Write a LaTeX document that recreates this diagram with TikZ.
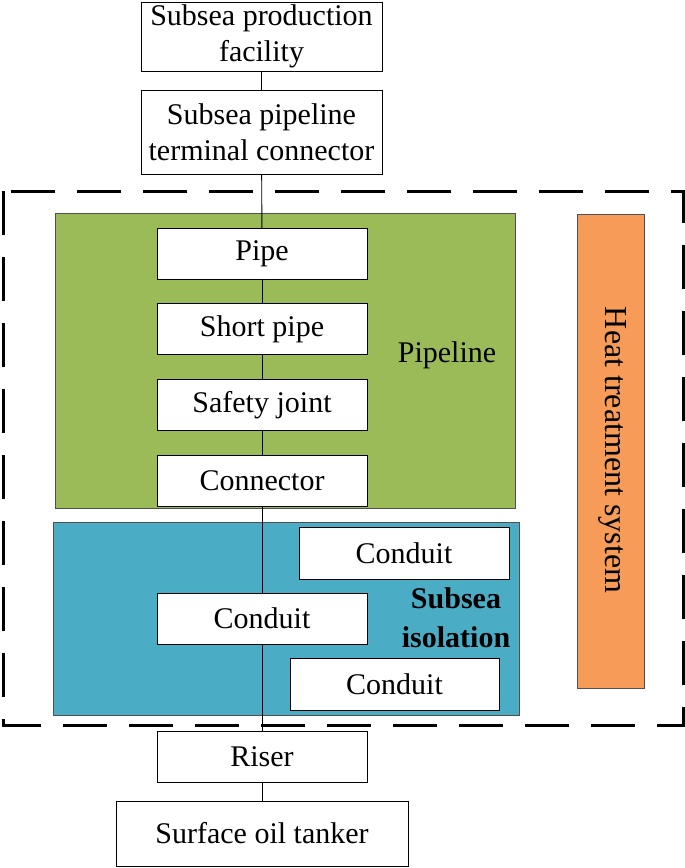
\documentclass[tikz,border=0pt]{standalone}
\usepackage{fontspec}
\setmainfont{Liberation Serif}
\definecolor{pipegreen}{HTML}{9BBB59}
\definecolor{seablue}{HTML}{4BACC6}
\definecolor{heatorange}{HTML}{F79C58}
\definecolor{edgegrey}{HTML}{505050}

\begin{document}
\begin{tikzpicture}[x=1pt, y=-1pt,
						box/.style = {draw, line width=0.9pt, fill=white, minimum width=210, minimum height=51, inner sep=0pt, align=center, font=\fontsize{30}{36}\selectfont},
						zone/.style = {draw=edgegrey, line width=0.8pt},
						link/.style = {line width=0.9pt}
					]
					\useasboundingbox (0,0) rectangle (685,868);
					% zones
					\draw[line width=3pt, dash pattern=on 44pt off 22pt] (3,191) rectangle (683,725);
					\draw[zone, fill=pipegreen] (55,213) rectangle (515,508);
					\draw[zone, fill=seablue] (53,522) rectangle (519,715);
					\draw[zone, fill=heatorange] (577,214) rectangle (644,688);
					\node[font=\fontsize{32}{36}\selectfont, rotate=-90] (heat) at (613,450) {Heat treatment system};
					\node[font=\fontsize{30}{36}\selectfont] (pipeline) at (447,355) {Pipeline};
					\node[font=\fontsize{30}{39}\bfseries, align=center] (isolation) at (456,618) {Subsea\\isolation};
					% boxes
					\node[box, minimum width=241, minimum height=69] (facility) at (261.5,36.5) {Subsea production\\facility};
					\node[box, minimum width=241, minimum height=84] (terminal) at (261.5,132) {Subsea pipeline\\terminal connector};
					\foreach \lbl/\y/\nm in {Pipe/254/pipe, Short pipe/329/short, Safety joint/405/safety, Connector/480.5/connector}{ \node[box] (\nm) at (262,\y) {\lbl};}
					\node[box] (conduitmid) at (262,618.5) {Conduit};
					\node[box, minimum height=52] (conduitup) at (404,553) {Conduit};
					\node[box, minimum width=209, minimum height=52] (conduitlow) at (394.5,684) {Conduit};
					\node[box] (riser) at (262,756.5) {Riser};
					\node[box, minimum width=292, minimum height=65] (tanker) at (262,833.5) {Surface oil tanker};
					% flow line
					\draw[link] (facility) -- (terminal);
					\draw[link] (terminal) -- (pipe);
					\draw[link] (pipe) -- (short);
					\draw[link] (short) -- (safety);
					\draw[link] (safety) -- (connector);
					\draw[link] (connector) -- (conduitmid);
					\draw[link] (conduitmid) -- (riser);
					\draw[link] (riser) -- (tanker);
				\end{tikzpicture}
\end{document}
